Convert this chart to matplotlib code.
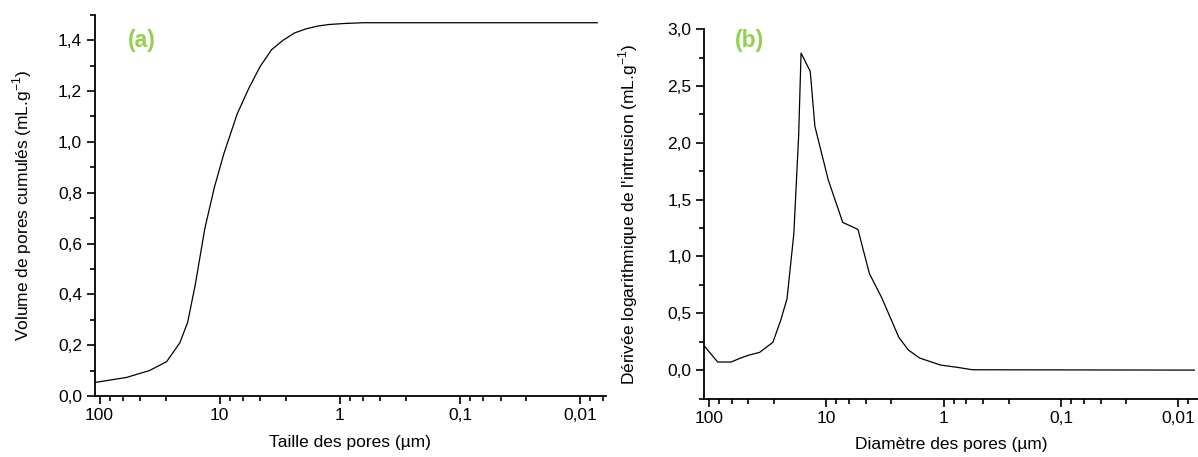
import numpy as np
import matplotlib
matplotlib.use('Agg')
import matplotlib.pyplot as plt
from matplotlib.ticker import FixedLocator, FuncFormatter, MultipleLocator

plt.rcParams['font.family'] = ['Liberation Sans', 'DejaVu Sans']

# (a) cumulative pore volume
size_a = [110, 59.8, 38.5, 27.7, 21.5, 18.5, 16.0, 13.3, 11.1, 9.25, 7.16,
          5.74, 4.61, 3.70, 2.97, 2.38, 1.91, 1.53, 1.23, 0.92, 0.64, 0.0072]
vol_a = [0.053, 0.073, 0.10, 0.135, 0.209, 0.29, 0.437, 0.66, 0.82, 0.953,
         1.11, 1.21, 1.297, 1.363, 1.40, 1.429, 1.445, 1.456, 1.462, 1.466,
         1.469, 1.469]

# (b) log differential intrusion
size_b = [111.9, 84.2, 64.8, 53.8, 46.3, 37.0, 28.5, 24.5, 21.6, 18.9, 17.2,
          16.4, 13.7, 12.5, 9.62, 7.24, 5.37, 4.29, 3.37, 2.41, 2.0, 1.60,
          1.06, 0.76, 0.57, 0.0073]
deriv_b = [0.224, 0.071, 0.071, 0.106, 0.13, 0.156, 0.245, 0.436, 0.628, 1.20,
           2.06, 2.79, 2.63, 2.145, 1.674, 1.30, 1.238, 0.849, 0.637, 0.289,
           0.177, 0.106, 0.044, 0.024, 0.003, 0.0]

major_x = [100, 10, 1, 0.1, 0.01]
major_lbl = ['100', '10', '1', '0,1', '0,01']
# Origin-style minor ticks: 4 linear ticks per decade
minor_x = [d * s for d in [100, 10, 1, 0.1, 0.01, 0.001] for s in [0.28, 0.46, 0.64, 0.82]]

comma = FuncFormatter(lambda v, p: f'{v:.1f}'.replace('.', ','))

fig = plt.figure(figsize=(11.98, 4.57), dpi=100)
ax1 = fig.add_axes([0.079, 0.1335, 0.427, 0.834])
ax2 = fig.add_axes([0.5877, 0.128, 0.4123, 0.808])


def style(ax):
    ax.set_xscale('log')
    ax.spines['top'].set_visible(False)
    ax.spines['right'].set_visible(False)
    for s in ['left', 'bottom']:
        ax.spines[s].set_linewidth(1.3)
    ax.xaxis.set_major_locator(FixedLocator(major_x))
    ax.xaxis.set_major_formatter(FuncFormatter(lambda v, p: major_lbl[major_x.index(v)] if v in major_x else ''))
    ax.xaxis.set_minor_locator(FixedLocator(minor_x))
    ax.xaxis.set_minor_formatter(FuncFormatter(lambda v, p: ''))
    ax.yaxis.set_major_formatter(comma)
    ax.tick_params(which='major', length=6, width=1.2, labelsize=12.5, pad=3)
    ax.tick_params(which='minor', length=3.5, width=1.2)


ax1.plot(size_a, vol_a, color='black', lw=0.9)
style(ax1)
ax1.set_xlim(110, 0.00607)
ax1.set_ylim(0, 1.5)
ax1.yaxis.set_major_locator(MultipleLocator(0.2))
ax1.yaxis.set_minor_locator(MultipleLocator(0.1))
ax1.set_xlabel('Taille des pores (µm)', fontsize=12.5, labelpad=8)
ax1.set_ylabel('Volume de pores cumulés (mL.g$^{\\mathregular{-1}}$)', fontsize=12.5, labelpad=17)
ax1.text(0.093, 0.934, '(a)', transform=ax1.transAxes, color='#92D050',
         fontsize=16.5, fontweight='bold', ha='center', va='center')

ax2.plot(size_b, deriv_b, color='black', lw=0.9)
style(ax2)
ax2.set_xlim(110, 0.0068)
ax2.set_ylim(-0.25, 3.0)
ax2.yaxis.set_major_locator(MultipleLocator(0.5))
ax2.yaxis.set_minor_locator(MultipleLocator(0.25))
ax2.set_xlabel('Diamètre des pores (µm)', fontsize=12.5, labelpad=8)
ax2.set_ylabel("Dérivée logarithmique de l'intrusion (mL.g$^{\\mathregular{-1}}$)", fontsize=12.5, labelpad=20)
ax2.text(0.091, 0.97, '(b)', transform=ax2.transAxes, color='#92D050',
         fontsize=16.5, fontweight='bold', ha='center', va='center')

fig.savefig('out.png', dpi=100)
